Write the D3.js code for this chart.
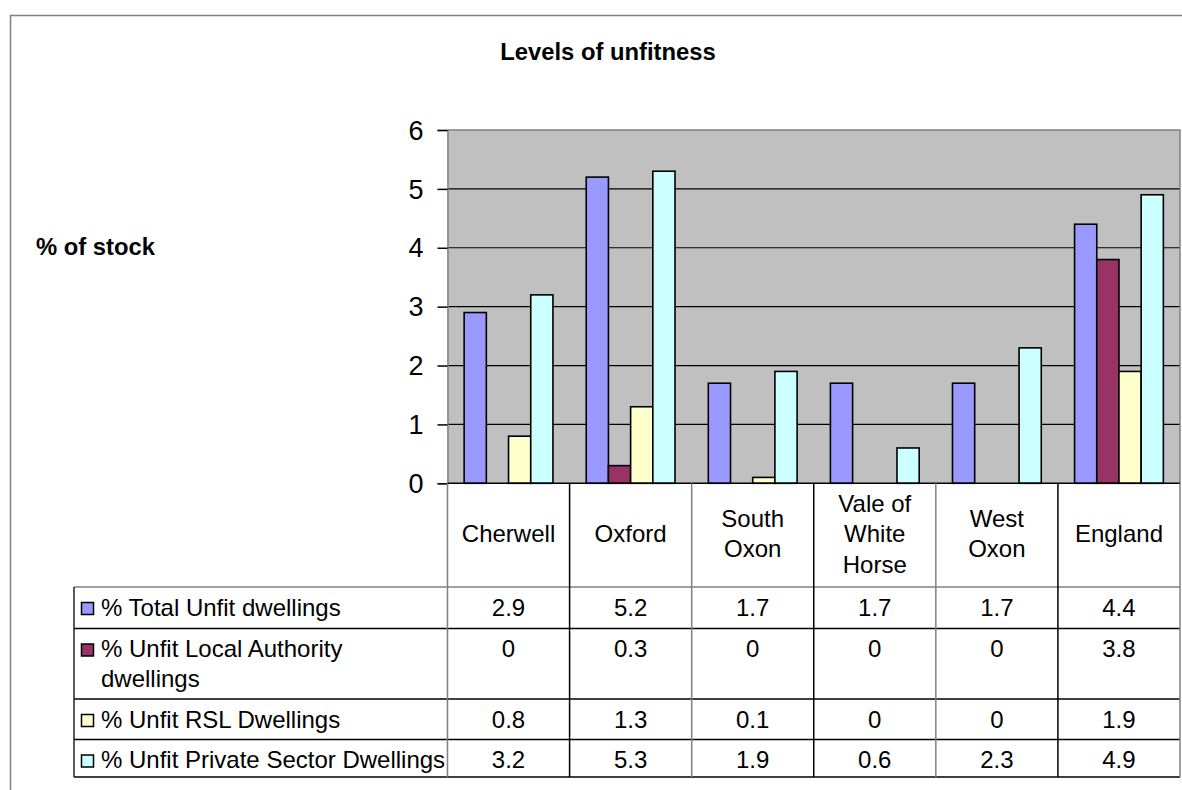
<!DOCTYPE html>
<html>
<head>
<meta charset="utf-8">
<script src="https://cdn.jsdelivr.net/npm/d3@7"></script>
<style>
  html, body { margin: 0; padding: 0; background: #fff; }
  svg { display: block; font-family: "Liberation Sans", Arial, sans-serif; }
</style>
</head>
<body>
<svg id="chart" width="1182" height="790"></svg>
<script>
// ---- data ----
const categories = ["Cherwell", "Oxford", "South Oxon", "Vale of White Horse", "West Oxon", "England"];
const categoryLines = [["Cherwell"], ["Oxford"], ["South", "Oxon"], ["Vale of", "White", "Horse"], ["West", "Oxon"], ["England"]];
const seriesNames = ["% Total Unfit dwellings", "% Unfit Local Authority dwellings", "% Unfit RSL Dwellings", "% Unfit Private Sector Dwellings"];
const seriesLines = [["% Total Unfit dwellings"], ["% Unfit Local Authority", "dwellings"], ["% Unfit RSL Dwellings"], ["% Unfit Private Sector Dwellings"]];
const totalUnfit = [2.9, 5.2, 1.7, 1.7, 1.7, 4.4];
const localAuthorityUnfit = [0, 0.3, 0, 0, 0, 3.8];
const rslUnfit = [0.8, 1.3, 0.1, 0, 0, 1.9];
const privateSectorUnfit = [3.2, 5.3, 1.9, 0.6, 2.3, 4.9];
const yTicks = [0, 1, 2, 3, 4, 5, 6];
const seriesColors = ["#9999FF", "#993366", "#FFFFCC", "#CCFFFF"];

const seriesValues = [totalUnfit, localAuthorityUnfit, rslUnfit, privateSectorUnfit];

// ---- layout ----
const svg = d3.select("#chart");
const plot = { left: 447.5, right: 1180, top: 130, bottom: 483.3 };
const tableLeft = 74;
const headerBottom = 587;
const rowHeights = [41.5, 70.5, 40.5, 37.5];
const fontSize = 24;
const grey = "#808080";

// outer chart frame (left and top edges)
svg.append("path")
  .attr("d", "M10.5,790 V15.5 H1182")
  .attr("fill", "none").attr("stroke", grey).attr("stroke-width", 1.5);

// title
svg.append("text")
  .attr("x", 608).attr("y", 60)
  .attr("text-anchor", "middle")
  .attr("font-weight", "bold").attr("font-size", 23.8)
  .text("Levels of unfitness");

// axis title
svg.append("text")
  .attr("x", 36).attr("y", 255)
  .attr("font-weight", "bold").attr("font-size", 23.8)
  .text("% of stock");

// scales
const x0 = d3.scaleBand().domain(categories).range([plot.left, plot.right]).padding(0);
const bw = x0.bandwidth();
const edge = bw * 0.75 / 5.5;
const x1 = d3.scaleBand().domain(seriesNames).range([edge, bw - edge]).padding(0);
const y = d3.scaleLinear().domain([0, 6]).range([plot.bottom, plot.top]);

// plot background
svg.append("rect")
  .attr("x", plot.left).attr("y", plot.top)
  .attr("width", plot.right - plot.left).attr("height", plot.bottom - plot.top)
  .attr("fill", "#C0C0C0");

// gridlines
svg.append("g").selectAll("line")
  .data(yTicks.filter(t => t > 0 && t < 6))
  .join("line")
  .attr("x1", plot.left).attr("x2", plot.right)
  .attr("y1", d => y(d)).attr("y2", d => y(d))
  .attr("stroke", "#000").attr("stroke-width", 1.2);

// plot border top/right
svg.append("path")
  .attr("d", `M${plot.left},${plot.top} H${plot.right} V${plot.bottom}`)
  .attr("fill", "none").attr("stroke", grey).attr("stroke-width", 1.5);

// bars
const groups = svg.append("g").selectAll("g")
  .data(categories)
  .join("g")
  .attr("transform", d => `translate(${x0(d)},0)`);

groups.selectAll("rect")
  .data((c, ci) => seriesNames.map((s, si) => ({ s, si, v: seriesValues[si][ci] })))
  .join("rect")
  .attr("x", d => x1(d.s))
  .attr("width", x1.bandwidth())
  .attr("y", d => y(d.v))
  .attr("height", d => y(0) - y(d.v))
  .attr("fill", d => seriesColors[d.si])
  .attr("stroke", "#000").attr("stroke-width", 1.6);

// y axis
const yAxis = svg.append("g")
  .attr("transform", `translate(${plot.left},0)`)
  .call(d3.axisLeft(y).tickValues(yTicks).tickSize(10).tickPadding(14).tickFormat(d3.format("d")));
yAxis.select(".domain").attr("stroke", grey).attr("stroke-width", 1.5);
yAxis.selectAll(".tick line").attr("stroke", "#000").attr("stroke-width", 1.5);
yAxis.selectAll(".tick text")
  .attr("font-size", 27)
  .attr("font-family", "'Liberation Sans', Arial, sans-serif")
  .attr("fill", "#000")
  .attr("dy", "0.34em");

// zero baseline
svg.append("line")
  .attr("x1", plot.left).attr("x2", plot.right)
  .attr("y1", y(0)).attr("y2", y(0))
  .attr("stroke", "#000").attr("stroke-width", 1.5);

// ---- data table ----
const rowTops = [];
let acc = headerBottom;
rowHeights.forEach(h => { rowTops.push(acc); acc += h; });
const tableBottom = acc;
const table = svg.append("g");

// header labels
categories.forEach((c, ci) => {
  const lines = categoryLines[ci];
  const cx = x0(c) + bw / 2;
  lines.forEach((ln, li) => {
    table.append("text")
      .attr("x", cx)
      .attr("y", 542 + (li - (lines.length - 1) / 2) * 30.5)
      .attr("text-anchor", "middle")
      .attr("font-size", fontSize)
      .text(ln);
  });
});

// rows
seriesNames.forEach((s, si) => {
  const top = rowTops[si];
  const base = top + 28.5;
  table.append("rect")
    .attr("x", 81.5).attr("y", base - 13)
    .attr("width", 12).attr("height", 12)
    .attr("fill", seriesColors[si])
    .attr("stroke", "#000").attr("stroke-width", 1.5);
  seriesLines[si].forEach((ln, li) => {
    table.append("text")
      .attr("x", 101).attr("y", base + li * 30)
      .attr("font-size", fontSize)
      .text(ln);
  });
  categories.forEach((c, ci) => {
    table.append("text")
      .attr("x", x0(c) + bw / 2).attr("y", base)
      .attr("text-anchor", "middle")
      .attr("font-size", fontSize)
      .text(String(seriesValues[si][ci]));
  });
});

// table grid: horizontal lines
rowTops.concat([tableBottom]).forEach((yy, i) => {
  table.append("line")
    .attr("x1", tableLeft).attr("x2", plot.right)
    .attr("y1", yy).attr("y2", yy)
    .attr("stroke", i === 0 ? grey : "#000").attr("stroke-width", 1.5);
});
// vertical lines between category columns
d3.range(categories.length + 1).forEach(i => {
  const xx = plot.left + i * bw;
  table.append("line")
    .attr("x1", xx).attr("x2", xx)
    .attr("y1", plot.bottom).attr("y2", tableBottom)
    .attr("stroke", i % 2 === 0 ? grey : "#000").attr("stroke-width", 1.5);
});
// left edge of the legend column
table.append("line")
  .attr("x1", tableLeft).attr("x2", tableLeft)
  .attr("y1", headerBottom).attr("y2", tableBottom)
  .attr("stroke", "#222").attr("stroke-width", 1.5);
</script>
</body>
</html>
